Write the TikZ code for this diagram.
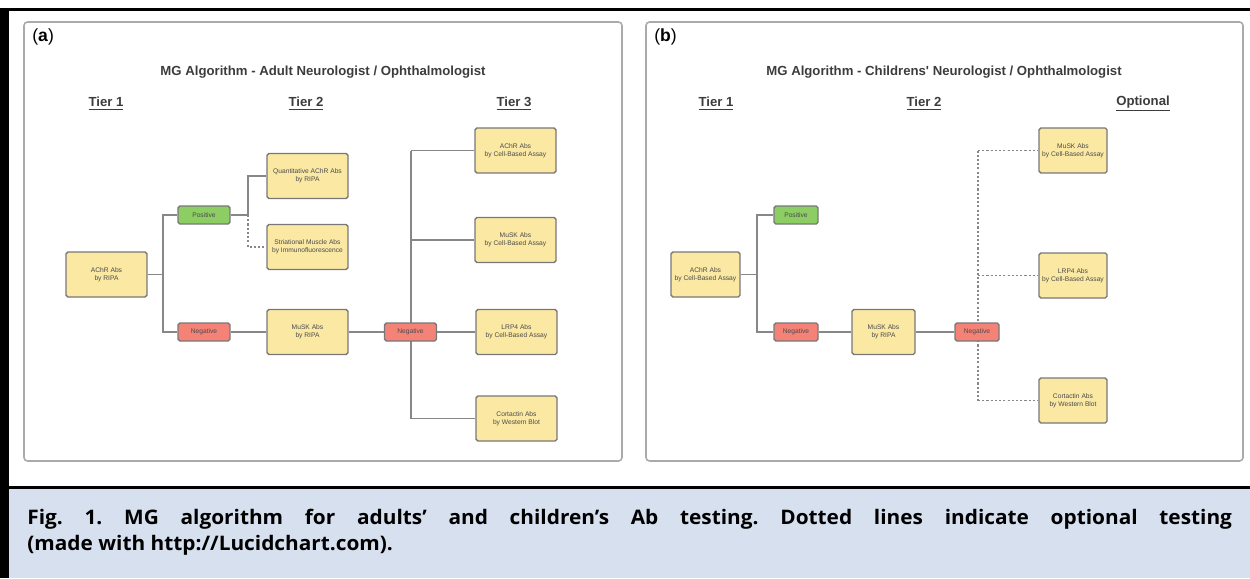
\documentclass[tikz,border=0pt]{standalone}
\usepackage{fontspec}
\setmainfont{Liberation Sans}
\newfontfamily\capfont[FakeStretch=1.04]{Open Sans}
\usepackage{tikz}
\pgfdeclarelayer{edgelayer}
\pgfdeclarelayer{nodelayer}
\pgfsetlayers{edgelayer,nodelayer,main}
\definecolor{testyellow}{RGB}{250,232,163}
\definecolor{posgreen}{RGB}{140,205,100}
\definecolor{negred}{RGB}{245,130,118}
\definecolor{boxgray}{RGB}{120,120,120}
\definecolor{linegray}{RGB}{135,135,135}
\definecolor{panelgray}{RGB}{170,170,170}
\definecolor{boxtext}{RGB}{75,75,75}
\definecolor{headtext}{RGB}{60,60,60}
\definecolor{capbg}{RGB}{215,224,238}
\newcommand{\mgboxfont}{\fontsize{3.8}{4.6}\selectfont}
\newcommand{\mgheadfont}{\fontsize{7.5}{9}\selectfont\bfseries}
\tikzstyle{none}=[inner sep=0pt]
\tikzstyle{test}=[rectangle,rounded corners=1pt,fill=testyellow,draw=boxgray,line width=0.8pt,minimum width=1.62cm,minimum height=0.9cm,align=center,inner sep=1pt,font=\mgboxfont,text=boxtext]
\tikzstyle{positive}=[test,fill=posgreen,minimum width=1.04cm,minimum height=0.36cm]
\tikzstyle{negative}=[test,fill=negred,minimum width=1.04cm,minimum height=0.36cm]
\tikzstyle{head}=[inner sep=0pt,font=\mgheadfont,text=headtext]
\tikzstyle{link}=[draw=linegray,line width=0.7pt]
\tikzstyle{optional}=[link,dash pattern=on 1.2pt off 1.2pt]
\tikzstyle{panel}=[draw=panelgray,line width=0.9pt,rounded corners=2pt]

\begin{document}
\begin{tikzpicture}[x=0.02cm,y=-0.02cm]
	\useasboundingbox (0,0) rectangle (1250,578);
	% frame and caption
	\fill [black] (0,8) rectangle (1250,11);
	\fill [black] (0,8) rectangle (9,578);
	\fill [capbg] (9,489) rectangle (1250,578);
	\fill [black] (0,486) rectangle (1250,489);
	\node [anchor=north west,inner sep=0pt,text width=24.1cm,align=justify,font=\capfont\bfseries\fontsize{11.4}{14.7}\selectfont\frenchspacing] (cap) at (27,509) {Fig. 1. MG algorithm for adults’ and children’s Ab testing. Dotted lines indicate optional testing\linebreak (made with http://Lucidchart.com).};
	\draw [style=panel] (24,22) rectangle (622,461);
	\draw [style=panel] (646,22) rectangle (1243,461);
	\node [anchor=west,inner sep=0pt,font=\fontsize{10}{11}\selectfont] (la) at (32,37) {(\textbf{a})};
	\node [anchor=west,inner sep=0pt,font=\fontsize{10}{11}\selectfont] (lb) at (654,37) {(\textbf{b})};
	% (a) adults
	\node [style=head] (ta) at (323,72) {MG Algorithm - Adult Neurologist / Ophthalmologist};
	\node [style=head] (a1) at (106,104) {\underline{Tier 1}};
	\node [style=head] (a2) at (306,104) {\underline{Tier 2}};
	\node [style=head] (a3) at (514,104) {\underline{Tier 3}};
	\begin{pgfonlayer}{nodelayer}
		\node [style=test] (0) at (106.5,274.5) {AChR Abs\\by RIPA};
		\node [style=positive] (1) at (204,215) {Positive};
		\node [style=negative] (2) at (204,332) {Negative};
		\node [style=test] (3) at (307.5,176) {Quantitative AChR Abs\\by RIPA};
		\node [style=test] (4) at (307.5,247) {Striational Muscle Abs\\by Immunofluorescence};
		\node [style=test] (5) at (307.5,332) {MuSK Abs\\by RIPA};
		\node [style=negative] (6) at (410.5,332) {Negative};
		\node [style=test] (7) at (515.5,150.5) {AChR Abs\\by Cell-Based Assay};
		\node [style=test] (8) at (515.5,240) {MuSK Abs\\by Cell-Based Assay};
		\node [style=test] (9) at (516.5,332) {LRP4 Abs\\by Cell-Based Assay};
		\node [style=test] (10) at (516.5,418.5) {Cortactin Abs\\by Western Blot};
		\node [style=none] (11) at (163,274.5) {};
		\node [style=none] (12) at (248,215) {};
		\node [style=none] (13) at (411,150.5) {};
		\node [style=none] (14) at (411,240) {};
		\node [style=none] (15) at (411,418.5) {};
	\end{pgfonlayer}
	\begin{pgfonlayer}{edgelayer}
		\draw [style=link] (0) -- (11.center);
		\draw [style=link] (11.center) |- (1);
		\draw [style=link] (11.center) |- (2);
		\draw [style=link] (1) -- (12.center);
		\draw [style=link] (12.center) |- (3);
		\draw [style=optional] (12.center) |- (4);
		\draw [style=link] (2) -- (5);
		\draw [style=link] (5) -- (6);
		\draw [style=link] (13.center) -- (15.center);
		\draw [style=link] (13.center) -- (7);
		\draw [style=link] (14.center) -- (8);
		\draw [style=link] (6) -- (9);
		\draw [style=link] (15.center) -- (10);
	\end{pgfonlayer}
	% (b) children
	\node [style=head] (tb) at (944,72) {MG Algorithm - Childrens\textquotesingle\ Neurologist / Ophthalmologist};
	\node [style=head] (b1) at (716,104) {\underline{Tier 1}};
	\node [style=head] (b2) at (924,104) {\underline{Tier 2}};
	\node [style=head] (b3) at (1143,104) {\underline{Optional}};
	\begin{pgfonlayer}{nodelayer}
		\node [style=test,minimum width=1.38cm] (20) at (705.5,274.5) {AChR Abs\\by Cell-Based Assay};
		\node [style=positive,minimum width=0.88cm] (21) at (796,215) {Positive};
		\node [style=negative,minimum width=0.88cm] (22) at (796,332) {Negative};
		\node [style=test,minimum width=1.26cm] (23) at (883.5,332) {MuSK Abs\\by RIPA};
		\node [style=negative,minimum width=0.88cm] (24) at (977,332) {Negative};
		\node [style=test,minimum width=1.36cm] (25) at (1073,150.5) {MuSK Abs\\by Cell-Based Assay};
		\node [style=test,minimum width=1.36cm] (26) at (1073,275.5) {LRP4 Abs\\by Cell-Based Assay};
		\node [style=test,minimum width=1.36cm] (27) at (1073,400.5) {Cortactin Abs\\by Western Blot};
		\node [style=none] (28) at (757,274.5) {};
		\node [style=none] (29) at (978,150.5) {};
		\node [style=none] (30) at (978,275.5) {};
		\node [style=none] (31) at (978,400.5) {};
	\end{pgfonlayer}
	\begin{pgfonlayer}{edgelayer}
		\draw [style=link] (20) -- (28.center);
		\draw [style=link] (28.center) |- (21);
		\draw [style=link] (28.center) |- (22);
		\draw [style=link] (22) -- (23);
		\draw [style=link] (23) -- (24);
		\draw [style=optional] (29.center) -- (31.center);
		\draw [style=optional] (29.center) -- (25);
		\draw [style=optional] (30.center) -- (26);
		\draw [style=optional] (31.center) -- (27);
	\end{pgfonlayer}
\end{tikzpicture}
\end{document}
